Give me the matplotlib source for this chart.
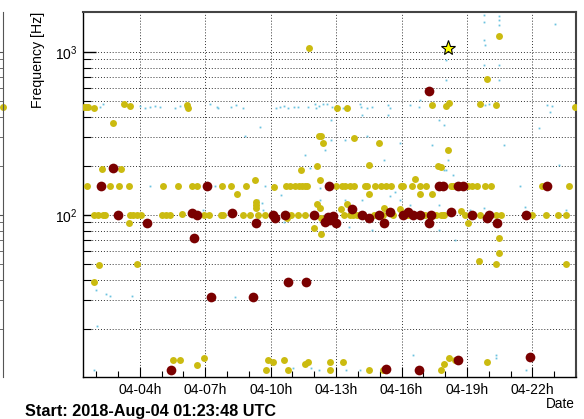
import numpy as np
import matplotlib
matplotlib.use("Agg")
import matplotlib.pyplot as plt
from matplotlib.ticker import FixedLocator, MultipleLocator, FuncFormatter, LogLocator, NullFormatter

plt.rcParams['font.family'] = ['Liberation Sans', 'DejaVu Sans']
plt.rcParams['mathtext.fontset'] = 'custom'
plt.rcParams['mathtext.rm'] = 'Liberation Sans'
plt.rcParams['mathtext.it'] = 'Liberation Sans:italic'

# time in hours since 2018-08-04 00:00 UTC, frequency in Hz
t_start = 1 + 23 / 60 + 48 / 3600
t_end = 24.0

# low-SNR triggers (cyan)
low_t = [2.17, 2.31, 4.00, 4.23, 4.46, 4.69, 4.92, 5.60, 5.83, 6.06, 7.21, 7.53, 7.57, 8.17, 8.40,
         8.72, 10.23, 10.41, 10.60, 10.78, 11.05, 11.24, 11.70, 12.02, 12.06, 12.20, 12.38, 12.57,
         12.80, 13.30, 14.08, 14.12, 14.44, 14.63, 15.36, 15.45, 16.37, 16.78, 18.02, 18.20, 19.85,
         20.03, 22.69, 22.92,
         19.76, 19.76, 19.76, 20.45, 20.45, 20.45, 23.06, 19.85, 18.06, 18.06, 19.80, 20.45, 20.49,
         9.50, 12.75, 12.75, 13.39, 14.40, 14.17, 11.56, 11.79, 12.47, 16.83, 17.74, 15.36, 17.97,
         18.15, 18.06, 18.34, 17.38, 15.91, 15.18, 22.32, 22.83, 23.24, 20.72, 8.81,
         4.46, 7.44, 9.73, 12.25, 13.89, 21.41,
         1.98, 2.44, 2.63, 3.63, 2.03, 1.89, 8.35, 9.73, 11.01, 11.83, 12.20, 13.44, 14.08, 16.51,
         20.35, 20.35, 21.73,
         6.89, 7.12, 9.41, 9.59, 9.63, 10.46, 11.33, 10.60, 12.25, 13.39, 13.57, 14.17, 14.63, 15.45,
         15.68, 15.91, 16.37, 17.74, 17.74, 17.97, 18.43, 19.12, 19.80, 21.64, 23.56]
low_f = [460, 480, 466, 453, 460, 466, 460, 453, 466, 460, 480, 460, 453, 460, 473,
         453, 453, 460, 466, 453, 460, 460, 460, 480, 453, 466, 480, 480,
         460, 453, 480, 460, 453, 460, 473, 453, 473, 460, 473, 480, 473,
         480, 473, 466,
         1687, 1528, 1185, 1663, 1572, 1465, 1486, 1104, 893, 673, 832, 832, 673,
         347, 383, 288, 288, 305, 410, 233, 194, 250, 508, 383, 410, 357,
         217, 189, 176, 269, 276, 217, 342, 428, 203, 269, 305,
         151, 151, 151, 146, 151, 151,
         34.7, 32.8, 31.8, 31.8, 20.8, 11.2, 31.4, 11.2, 11.5, 11.5, 11.2, 11.2, 11.2, 13.8,
         13.8, 13.3, 11.2,
         107, 101, 124, 119, 107, 133, 100, 90.6, 124, 124, 84.4, 124, 80.9, 131,
         138, 124, 115, 115, 80.9, 189, 70.3, 107, 110, 112, 107]

# medium-SNR triggers (yellow)
mid_t = [1.43, 1.53, 1.62, 1.89, 3.27, 3.54, 2.76, 6.18, 6.22,
         11.74, 13.02, 13.48, 12.20, 12.29, 13.80,
         20.45, 19.90, 17.42, 18.06, 18.20, 19.62, 20.31, 23.97,
         2.26, 3.13,
         1.57, 2.63, 3.04, 3.50, 5.05, 5.74, 6.38, 6.61,
         1.89, 2.08, 2.31, 2.40, 3.54, 3.68, 3.86, 4.05, 5.01, 5.19, 5.37, 5.92,
         3.50, 2.12, 3.86,
         12.38, 14.99, 12.11, 11.38, 12.25, 14.49,
         7.76, 8.17, 8.86, 8.44, 9.27, 10.14, 10.69, 10.87, 11.10, 11.28, 11.42, 11.56, 11.65,
         12.98, 13.25, 13.39, 13.62, 13.80, 14.31, 14.40, 14.77, 15.04, 15.31, 14.49,
         6.93, 7.16, 7.71, 7.80, 8.72, 9.04, 9.41, 9.73, 10.73, 10.92, 11.24, 11.56,
         12.11, 12.25, 12.29, 13.21, 13.48, 13.35, 13.62, 13.76, 13.94, 14.72, 15.22,
         9.31, 9.31, 9.31, 11.97, 12.29,
         18.11, 17.65, 17.79, 16.60,
         15.54, 15.96, 16.09, 16.46, 16.87, 17.10, 18.25, 18.34, 19.03, 19.25, 19.44, 19.85,
         20.12, 22.46, 23.70, 16.87, 17.42,
         15.91, 16.32, 17.06, 17.56, 17.79, 17.97, 18.75, 18.93, 19.58, 20.35, 20.54, 22.00,
         22.64, 23.19, 23.56, 19.07, 15.13, 15.59, 16.23, 16.92, 17.42, 17.88,
         20.45, 20.49, 19.53, 20.35, 23.56,
         1.89, 5.51, 5.83, 6.61, 6.93, 9.86, 10.09, 9.77, 10.60, 10.78, 11.56, 11.70, 12.70,
         12.70, 13.30, 14.49, 15.13, 17.79, 17.97, 18.20, 18.43, 19.90]
mid_f = [460, 460, 460, 455, 480, 466, 367, 470, 455,
         1059, 455, 453, 305, 305, 297,
         1253, 682, 473, 466, 486, 480, 473, 460,
         191, 191,
         151, 151, 151, 151, 151, 151, 151, 151,
         100, 100, 100, 100, 100, 100, 100, 100, 100, 100, 100, 101,
         89.3, 49.3, 50.0,
         276, 276, 200, 189, 164, 203,
         151, 151, 151, 135, 164, 149, 151, 151, 151, 151, 151, 151, 151,
         151, 151, 151, 151, 151, 151, 151, 151, 151, 151, 135,
         100, 100, 100, 100, 100, 100, 100, 100, 95.9, 100, 100, 100,
         117, 110, 95.9, 109, 117, 100, 100, 100, 100, 100, 110,
         120, 115, 110, 83.2, 76.4,
         250, 200, 197, 166,
         151, 151, 151, 151, 151, 151, 151, 151, 151, 151, 151, 151,
         151, 151, 151, 135, 135,
         109, 100, 100, 100, 100, 100, 106, 100, 100, 100, 100, 100,
         100, 100, 100, 89.3, 100, 100, 100, 100, 100, 100,
         72.2, 58.5, 52.2, 50.0, 50.0,
         38.8, 12.9, 12.9, 12.0, 13.3, 12.9, 12.5, 11.2, 12.9, 11.2, 12.2, 12.5, 12.5,
         11.2, 12.5, 11.2, 11.2, 11.2, 12.2, 13.3, 12.9, 12.5]

# high-SNR triggers (dark red)
high_t = [2.76, 2.21, 2.99, 4.32, 6.38, 6.61, 6.47, 7.07, 8.21, 9.31, 10.09, 10.18, 10.64,
          11.97, 12.66, 12.47, 12.61, 12.84, 12.98, 12.70, 13.71, 14.17, 14.49, 14.95, 15.18,
          15.45, 16.09, 16.32, 16.51, 16.83, 17.33, 17.24, 18.25, 19.25, 19.90, 19.99, 20.40,
          21.73, 17.70, 17.88, 18.61, 18.80, 22.69, 17.24, 7.25, 9.18, 10.78, 11.60,
          5.42, 15.27, 16.78, 18.61, 21.87]
high_f = [194, 151, 100, 89.3, 103, 100, 72.2, 151, 103, 89.3, 100, 95.9, 100,
          100, 151, 90.6, 97.2, 98.6, 89.3, 93.2, 109, 100, 95.9, 100, 89.3,
          104, 100, 104, 100, 100, 100, 89.3, 104, 100, 95.9, 100, 89.3,
          100, 151, 151, 151, 151, 151, 577, 31.4, 31.4, 38.8, 38.8,
          11.2, 11.4, 11.2, 12.9, 13.5]

# loudest trigger
peak_t = [18.11]
peak_f = [1059]

# trigger at the edge of the neighbouring panel
edge_f = [460]

tick_hours = [4, 7, 10, 13, 16, 19, 22]
f_min, f_max = 10.15, 1760

fig = plt.figure(figsize=(5.84, 4.19), dpi=100)
ax = fig.add_axes([83 / 584, 1 - 377 / 419, 493 / 584, 365 / 419])

ax.plot(low_t, low_f, ls='none', marker='s', ms=1.3, mew=0, color='#6cc3df', zorder=2)
ax.plot(mid_t, mid_f, ls='none', marker='o', ms=5.0, mew=0, color='#cbbb10', zorder=3)
ax.plot(high_t, high_f, ls='none', marker='o', ms=7.0, mew=0, color='#7a0000', zorder=4)
ax.plot(peak_t, peak_f, ls='none', marker='*', ms=11, mew=0.8, mfc='#ffff00', mec='black', zorder=5)

ax.set_yscale('log')
ax.set_ylim(f_min, f_max)
ax.set_xlim(t_start, t_end)

ax.xaxis.set_major_locator(FixedLocator(tick_hours))
ax.xaxis.set_minor_locator(MultipleLocator(1))
ax.xaxis.set_major_formatter(FuncFormatter(lambda v, p: '04-%02dh' % int(round(v))))
ax.yaxis.set_major_locator(LogLocator(base=10))
ax.yaxis.set_minor_locator(LogLocator(base=10, subs=np.arange(2, 10)))
ax.yaxis.set_minor_formatter(NullFormatter())

ax.tick_params(axis='both', which='both', direction='in', top=False, right=False, labelsize=10)
ax.tick_params(axis='x', which='major', length=7.5, width=0.8, pad=4)
ax.tick_params(axis='x', which='minor', length=4, width=0.8)
ax.tick_params(axis='y', which='major', length=9, width=1.0, pad=4)
ax.tick_params(axis='y', which='minor', length=6, width=0.8)

grid_kw = dict(color='#333333', linewidth=0.7, linestyle=(0, (1, 2)))
ax.grid(True, which='major', axis='both', **grid_kw)
ax.grid(True, which='minor', axis='y', **grid_kw)
ax.set_axisbelow(True)

for s in ax.spines.values():
    s.set_linewidth(1.0)
ax.spines['top'].set_color('#444444')
ax.spines['right'].set_color('#444444')
ax.spines['top'].set_linewidth(1.5)
ax.spines['right'].set_linewidth(1.5)

ax.set_ylabel('Frequency [Hz]', fontsize=10.2, loc='top')
ax.yaxis.set_label_coords(-0.077, 1.0)

fig.text(575 / 584, 1 - 408 / 419, 'Date', ha='right', va='baseline', fontsize=9.8)
fig.text(25 / 584, 1 - 416 / 419, 'Start: 2018-Aug-04 01:23:48 UTC',
         ha='left', va='baseline', fontsize=11.7, fontweight='bold')

# right edge of the panel to the left
ax_l = fig.add_axes([-0.3, 1 - 377 / 419, 0.3 + 2.5 / 584, 365 / 419])
ax_l.set_yscale('log')
ax_l.set_ylim(f_min, f_max)
ax_l.set_xlim(0, 1)
ax_l.plot([1.0] * len(edge_f), edge_f, ls='none', marker='o', ms=5.0, mew=0,
          color='#cbbb10', clip_on=False)
for side in ['top', 'left', 'bottom']:
    ax_l.spines[side].set_visible(False)
ax_l.spines['right'].set_color('#555555')
ax_l.set_xticks([])
ax_l.yaxis.tick_right()
ax_l.yaxis.set_minor_locator(LogLocator(base=10, subs=np.arange(2, 10)))
ax_l.tick_params(axis='y', which='both', direction='in', labelright=False, colors='#555555')
ax_l.tick_params(axis='y', which='major', length=9)
ax_l.tick_params(axis='y', which='minor', length=6)

fig.savefig('out.png', dpi=100)
